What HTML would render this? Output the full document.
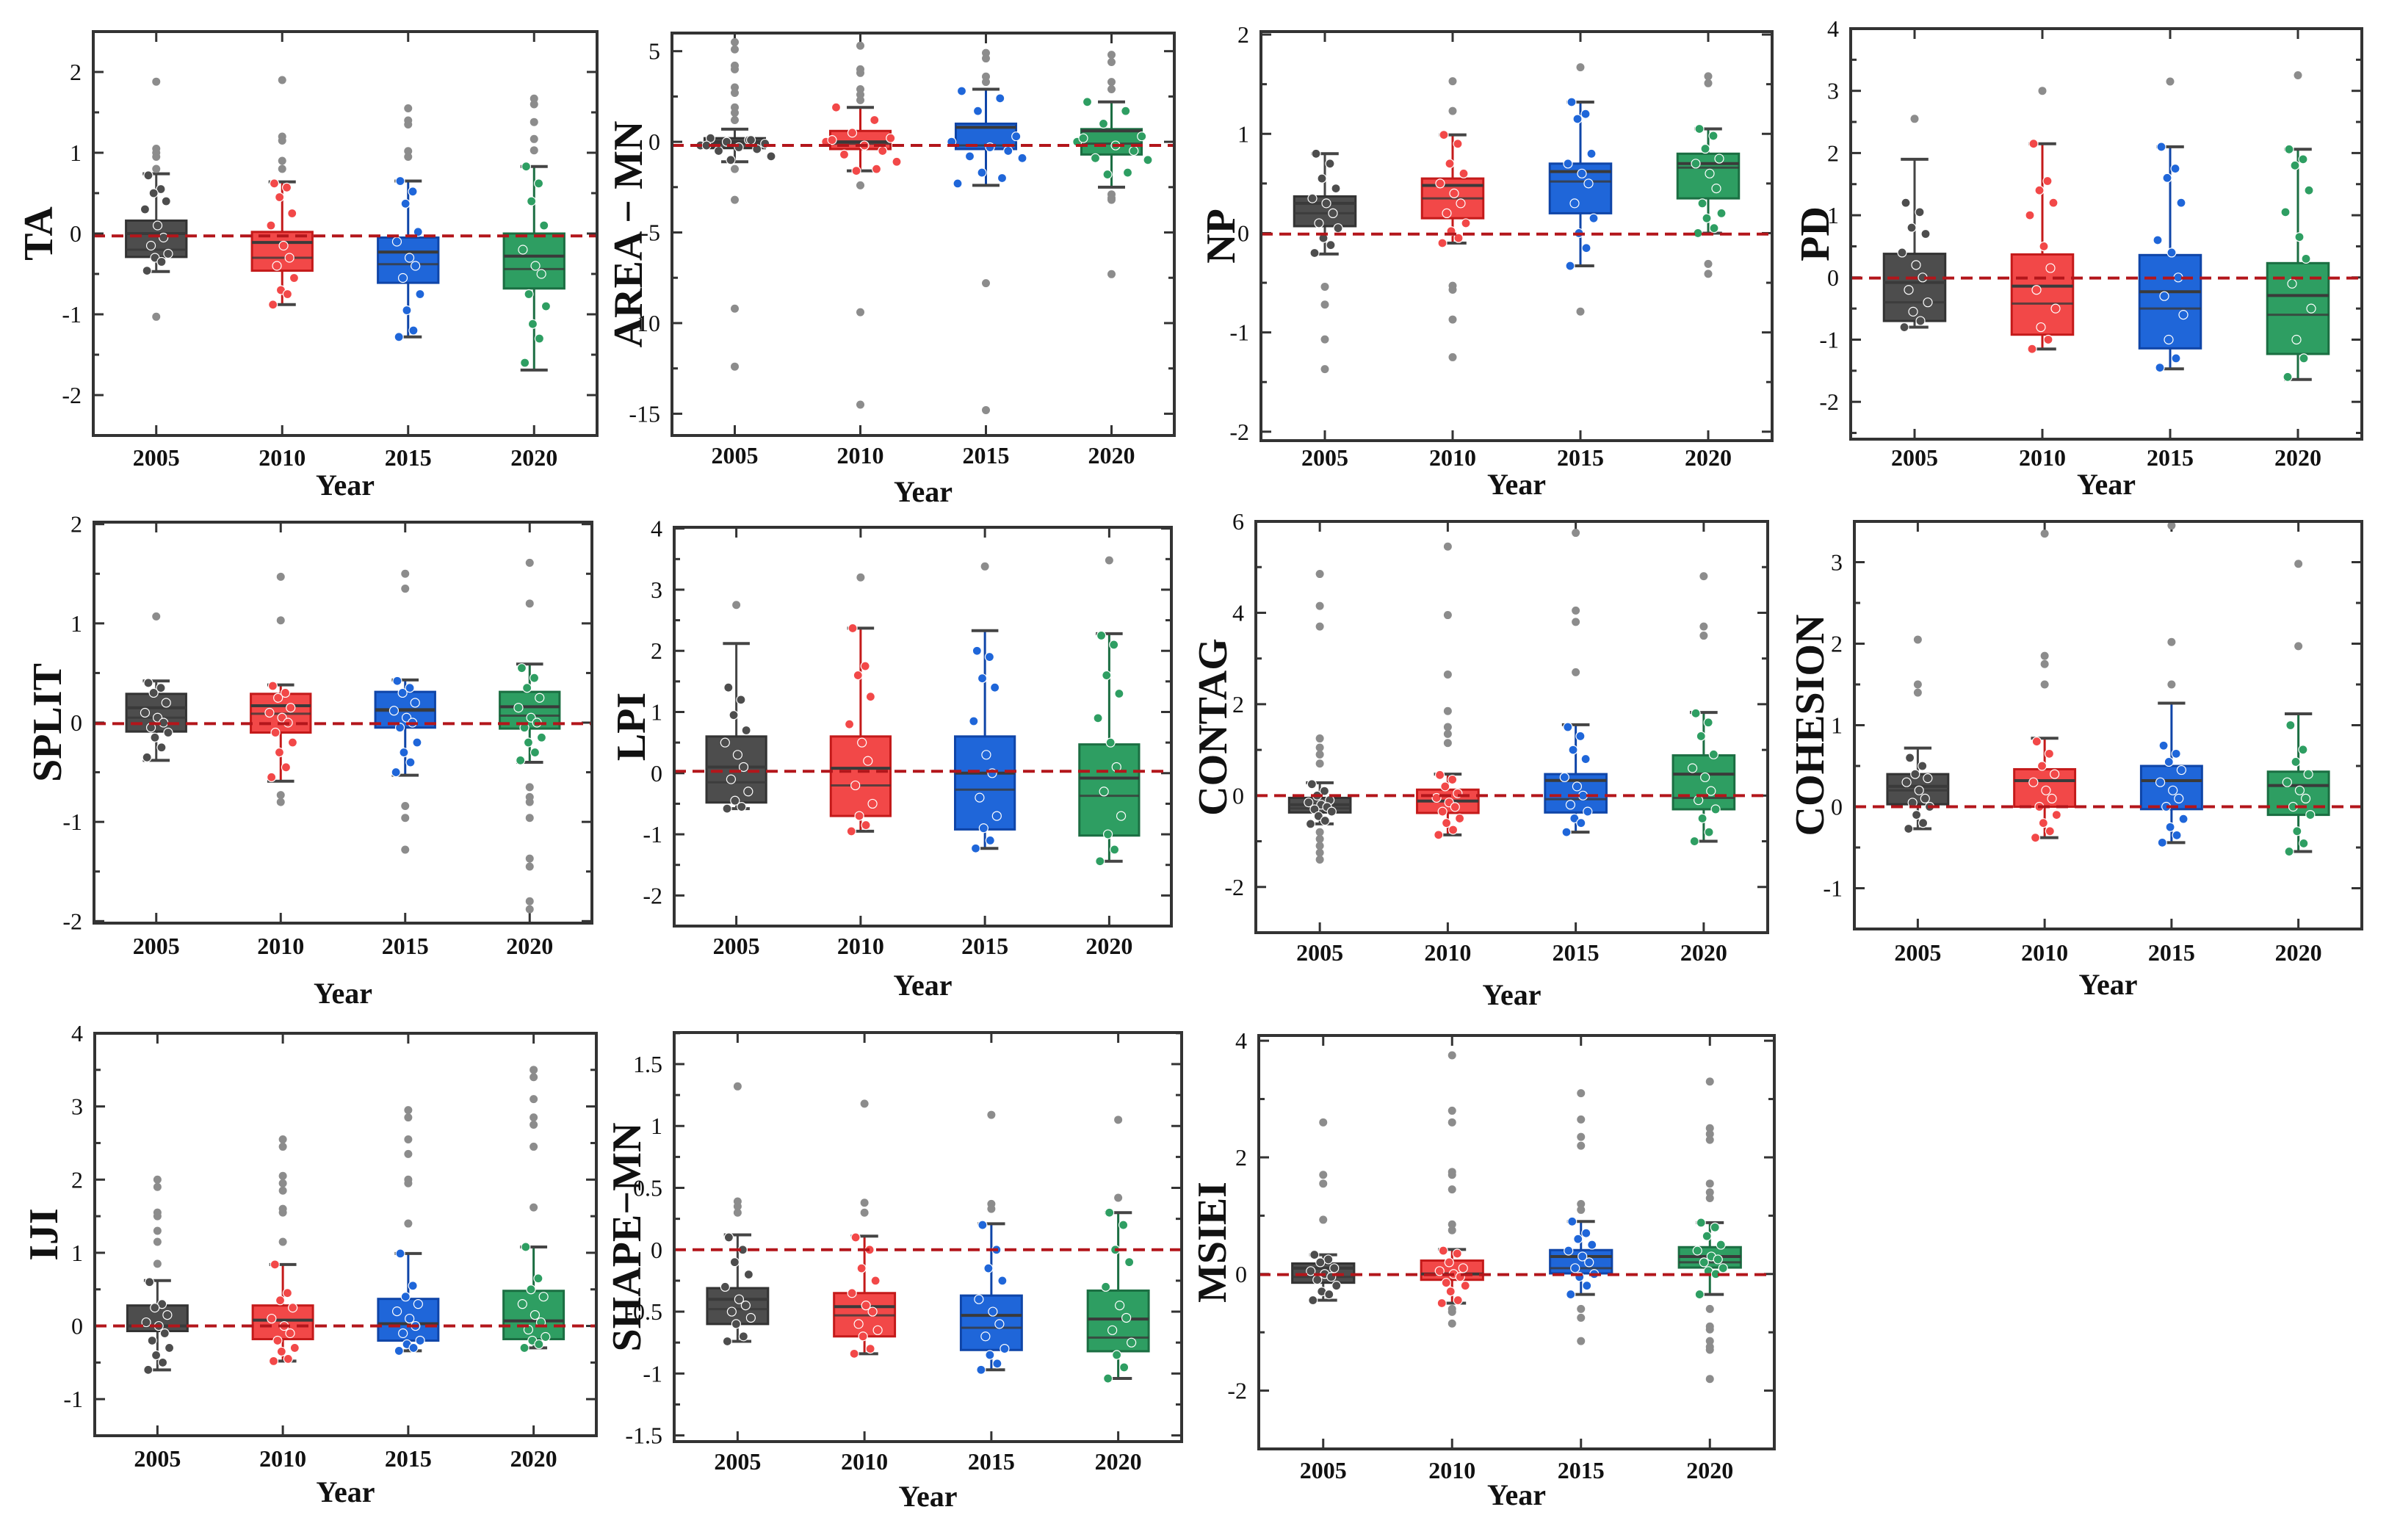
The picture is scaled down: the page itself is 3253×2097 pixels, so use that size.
<!DOCTYPE html>
<html><head><meta charset="utf-8"><title>Boxplots of landscape indices by year</title>
<style>
html,body{margin:0;padding:0;background:#fff;}
svg{display:block;font-family:"Liberation Serif",serif;}
</style></head>
<body>
<svg id="chart" xmlns="http://www.w3.org/2000/svg" width="3253" height="2097" viewBox="0 0 3253 2097">
<rect x="0" y="0" width="3253" height="2097" fill="#ffffff"/>
</svg>
<script>
const years=['2005','2010','2015','2020'];

const TA_q3=[0.16,0.02,-0.05,0.0], TA_q1=[-0.29,-0.46,-0.61,-0.68], TA_med=[0.0,-0.11,-0.23,-0.28], TA_mean=[-0.2,-0.3,-0.38,-0.44], TA_hi=[0.74,0.64,0.65,0.83], TA_lo=[-0.47,-0.88,-1.28,-1.69];
const TA_out=[[1.88,1.05,1.0,0.95,0.8,-1.03],[1.9,1.2,1.15,0.9,0.8],[1.55,1.4,1.35,1.02,0.95],[1.67,1.6,1.38,1.17,1.03]];
const TA_pts=[[0.72,0.55,0.5,0.4,0.3,0.1,-0.05,-0.15,-0.25,-0.3,-0.35,-0.46],[0.62,0.57,0.45,0.25,0.1,-0.15,-0.3,-0.4,-0.55,-0.7,-0.75,-0.88],[0.65,0.52,0.37,0.02,-0.1,-0.3,-0.4,-0.55,-0.75,-0.95,-1.2,-1.28],[0.83,0.62,0.4,0.1,-0.2,-0.4,-0.5,-0.75,-0.9,-1.12,-1.3,-1.6]];
const AREA_q3=[0.2,0.6,1.0,0.7], AREA_q1=[-0.35,-0.4,-0.4,-0.7], AREA_med=[0.0,0.0,0.8,0.6], AREA_mean=[-0.1,-0.1,-0.2,-0.1], AREA_hi=[0.7,1.9,2.9,2.2], AREA_lo=[-1.1,-1.6,-2.4,-2.5];
const AREA_out=[[5.5,5.1,4.2,4.0,3.0,2.7,1.9,1.6,1.2,-1.5,-3.2,-9.2,-12.4],[5.3,4.0,3.8,2.9,2.6,2.3,-2.4,-9.4,-14.5],[4.9,4.6,3.6,3.3,-7.8,-14.8],[4.8,4.4,3.3,2.9,-2.9,-3.1,-3.2,-7.3]];
const AREA_pts=[[0.2,0.1,0,-0.1,-0.2,-0.3,-0.4,-0.5,-0.8,-1.0,0.1,-0.2],[1.9,1.2,0.5,0.2,0,-0.2,-0.5,-0.7,-1.1,-1.6,-1.5,0.1],[2.8,2.4,1.7,0.3,0,-0.3,-0.5,-0.8,-0.9,-1.7,-2.0,-2.3],[2.2,1.7,1.0,0.3,0,-0.2,-0.5,-0.9,-1.0,-1.8,-1.7,0.2]];
const NP_q3=[0.37,0.55,0.7,0.8], NP_q1=[0.07,0.15,0.2,0.35], NP_med=[0.3,0.48,0.62,0.7], NP_mean=[0.2,0.35,0.52,0.66], NP_hi=[0.8,0.99,1.32,1.05], NP_lo=[-0.21,-0.1,-0.33,0.0];
const NP_out=[[-0.54,-0.72,-1.07,-1.37],[1.53,1.23,-0.53,-0.57,-0.87,-1.25],[1.67,-0.79],[1.58,1.51,-0.31,-0.41]];
const NP_pts=[[0.8,0.7,0.55,0.45,0.35,0.3,0.2,0.1,0.05,-0.05,-0.12,-0.2],[0.99,0.9,0.7,0.6,0.5,0.4,0.3,0.2,0.1,0.02,-0.05,-0.1],[1.32,1.2,1.15,0.8,0.7,0.6,0.5,0.3,0.15,0.0,-0.15,-0.33],[1.05,0.98,0.85,0.75,0.7,0.6,0.45,0.3,0.2,0.15,0.05,0.0]];
const PD_q3=[0.38,0.37,0.36,0.23], PD_q1=[-0.7,-0.92,-1.14,-1.23], PD_med=[-0.08,-0.14,-0.23,-0.29], PD_mean=[-0.4,-0.42,-0.5,-0.6], PD_hi=[1.9,2.15,2.1,2.06], PD_lo=[-0.8,-1.15,-1.47,-1.64];
const PD_out=[[2.55],[3.0],[3.15],[3.25]];
const PD_pts=[[1.2,1.05,0.8,0.7,0.4,0.2,0,-0.2,-0.4,-0.55,-0.7,-0.8],[2.15,1.55,1.4,1.2,1.0,0.5,0.15,-0.2,-0.5,-0.8,-1.0,-1.15],[2.1,1.75,1.6,1.2,0.6,0.4,0,-0.3,-0.6,-1.0,-1.3,-1.45],[2.06,1.9,1.8,1.4,1.05,0.65,0.3,-0.1,-0.5,-1.0,-1.3,-1.6]];
const SPLIT_q3=[0.29,0.29,0.31,0.31], SPLIT_q1=[-0.09,-0.1,-0.05,-0.06], SPLIT_med=[0.15,0.17,0.13,0.16], SPLIT_mean=[0.05,0.09,0.12,0.07], SPLIT_hi=[0.42,0.38,0.43,0.59], SPLIT_lo=[-0.38,-0.59,-0.53,-0.4];
const SPLIT_out=[[1.07],[1.47,1.03,-0.73,-0.8],[1.5,1.35,-0.84,-0.96,-1.28],[1.61,1.2,-0.65,-0.75,-0.8,-0.96,-1.37,-1.45,-1.8,-1.88]];
const SPLIT_pts=[[0.4,0.35,0.3,0.2,0.1,0.05,0,-0.05,-0.1,-0.15,-0.25,-0.35],[0.37,0.3,0.25,0.15,0.1,0.05,0,-0.1,-0.2,-0.3,-0.45,-0.55],[0.42,0.35,0.3,0.2,0.12,0.05,0,-0.05,-0.2,-0.3,-0.4,-0.5],[0.55,0.45,0.35,0.25,0.15,0.05,0,-0.05,-0.15,-0.2,-0.3,-0.38]];
const LPI_q3=[0.6,0.6,0.6,0.47], LPI_q1=[-0.48,-0.7,-0.92,-1.02], LPI_med=[0.1,0.08,0.0,-0.08], LPI_mean=[-0.15,-0.2,-0.27,-0.37], LPI_hi=[2.12,2.37,2.33,2.28], LPI_lo=[-0.58,-0.95,-1.23,-1.44];
const LPI_out=[[2.75],[3.2],[3.38],[3.48]];
const LPI_pts=[[1.4,1.2,0.95,0.7,0.5,0.3,0.1,-0.1,-0.3,-0.45,-0.55,-0.58],[2.37,1.75,1.6,1.25,0.8,0.5,0.2,-0.2,-0.5,-0.7,-0.85,-0.95],[2.0,1.9,1.55,1.4,0.85,0.3,0.0,-0.4,-0.7,-0.9,-1.1,-1.23],[2.25,2.1,1.6,1.3,0.9,0.5,0.1,-0.3,-0.7,-1.0,-1.25,-1.44]];
const CONTAG_q3=[-0.05,0.13,0.47,0.88], CONTAG_q1=[-0.37,-0.38,-0.37,-0.3], CONTAG_med=[-0.2,-0.12,0.33,0.47], CONTAG_mean=[-0.28,-0.12,-0.08,-0.05], CONTAG_hi=[0.28,0.47,1.55,1.82], CONTAG_lo=[-0.62,-0.86,-0.8,-1.0];
const CONTAG_out=[[4.85,4.15,3.7,1.25,1.05,0.9,0.7,-0.8,-0.95,-1.1,-1.25,-1.4],[5.45,3.95,2.65,1.85,1.5,1.35,1.15],[5.75,4.05,3.8,2.7],[4.8,3.7,3.5]];
const CONTAG_pts=[[0.25,0.1,0,-0.1,-0.15,-0.2,-0.25,-0.3,-0.35,-0.45,-0.55,-0.62],[0.45,0.35,0.2,0.05,-0.05,-0.15,-0.25,-0.35,-0.5,-0.6,-0.75,-0.86],[1.5,1.3,1.0,0.8,0.4,0.2,0,-0.2,-0.35,-0.5,-0.6,-0.8],[1.8,1.6,1.3,0.9,0.6,0.4,0.1,-0.1,-0.3,-0.5,-0.8,-1.0]];
const COH_q3=[0.4,0.46,0.5,0.43], COH_q1=[0.03,0.0,-0.03,-0.1], COH_med=[0.25,0.32,0.32,0.26], COH_mean=[0.2,0.32,0.32,0.26], COH_hi=[0.72,0.84,1.27,1.14], COH_lo=[-0.27,-0.38,-0.44,-0.55];
const COH_out=[[2.05,1.5,1.4],[3.35,1.85,1.75,1.5],[3.45,2.02,1.5],[2.98,1.97]];
const COH_pts=[[0.6,0.5,0.4,0.35,0.3,0.2,0.1,0.05,0,-0.1,-0.2,-0.27],[0.8,0.65,0.5,0.4,0.3,0.2,0.1,0,-0.1,-0.2,-0.3,-0.38],[0.75,0.65,0.55,0.45,0.3,0.2,0.1,0,-0.15,-0.25,-0.35,-0.44],[1.0,0.7,0.55,0.4,0.3,0.2,0.1,0,-0.1,-0.3,-0.45,-0.55]];
const IJI_q3=[0.28,0.28,0.37,0.48], IJI_q1=[-0.07,-0.18,-0.2,-0.18], IJI_med=[0.0,0.08,0.03,0.07], IJI_mean=[0.0,0.08,0.03,0.07], IJI_hi=[0.62,0.84,0.99,1.08], IJI_lo=[-0.6,-0.48,-0.34,-0.3];
const IJI_out=[[2.0,1.9,1.55,1.5,1.3,1.15,0.85],[2.55,2.45,2.05,1.95,1.85,1.6,1.55,1.15],[2.95,2.85,2.55,2.35,2.0,1.95,1.4],[3.5,3.4,3.1,2.85,2.75,2.45,1.62]];
const IJI_pts=[[0.6,0.3,0.25,0.15,0.05,0,-0.1,-0.2,-0.3,-0.4,-0.5,-0.6],[0.84,0.45,0.35,0.25,0.1,0,-0.1,-0.2,-0.3,-0.35,-0.45,-0.48],[0.99,0.55,0.4,0.3,0.2,0.1,0,-0.1,-0.2,-0.25,-0.3,-0.34],[1.08,0.65,0.5,0.4,0.3,0.15,0.05,-0.05,-0.15,-0.2,-0.25,-0.3]];
const SHAPE_q3=[-0.31,-0.35,-0.37,-0.33], SHAPE_q1=[-0.6,-0.7,-0.81,-0.82], SHAPE_med=[-0.4,-0.46,-0.53,-0.56], SHAPE_mean=[-0.48,-0.53,-0.63,-0.71], SHAPE_hi=[0.12,0.11,0.21,0.3], SHAPE_lo=[-0.74,-0.84,-0.97,-1.04];
const SHAPE_out=[[1.32,0.39,0.35,0.3],[1.18,0.38,0.3],[1.09,0.37,0.33],[1.05,0.42]];
const SHAPE_pts=[[0.1,0.0,-0.1,-0.2,-0.3,-0.4,-0.45,-0.5,-0.55,-0.6,-0.7,-0.74],[0.1,0.0,-0.15,-0.25,-0.35,-0.45,-0.5,-0.6,-0.65,-0.7,-0.8,-0.84],[0.2,0.0,-0.15,-0.25,-0.4,-0.5,-0.6,-0.7,-0.8,-0.85,-0.92,-0.97],[0.3,0.2,0.0,-0.1,-0.3,-0.45,-0.55,-0.65,-0.75,-0.85,-0.95,-1.04]];
const MSIEI_q3=[0.18,0.23,0.41,0.46], MSIEI_q1=[-0.15,-0.1,0.01,0.11], MSIEI_med=[0.1,0.0,0.3,0.3], MSIEI_mean=[-0.05,0.0,0.1,0.2], MSIEI_hi=[0.33,0.42,0.9,0.88], MSIEI_lo=[-0.45,-0.5,-0.35,-0.35];
const MSIEI_out=[[2.6,1.7,1.55,0.93],[3.75,2.8,2.6,1.75,1.7,1.45,0.85,0.75,-0.6,-0.65,-0.85],[3.1,2.65,2.35,2.2,1.2,1.1,-0.6,-0.75,-1.15],[3.3,2.5,2.4,2.3,1.55,1.4,1.3,-0.6,-0.9,-0.95,-1.15,-1.25,-1.3,-1.8]];
const MSIEI_pts=[[0.33,0.25,0.2,0.1,0.05,0,-0.05,-0.1,-0.2,-0.3,-0.35,-0.45],[0.4,0.35,0.2,0.1,0.05,0,-0.05,-0.15,-0.2,-0.3,-0.45,-0.5],[0.9,0.7,0.6,0.5,0.4,0.3,0.2,0.1,0.0,-0.05,-0.2,-0.35],[0.88,0.8,0.65,0.5,0.4,0.3,0.25,0.2,0.1,0.05,0.0,-0.35]];

const refLines=[-0.03,-0.2,-0.01,-0.01,-0.01,0.03,0,0,0,0,-0.01];

const NS='http://www.w3.org/2000/svg';
const svg=document.getElementById('chart');
function mk(tag,attrs,parent){const e=document.createElementNS(NS,tag);for(const k in attrs)e.setAttribute(k,attrs[k]);(parent||svg).appendChild(e);return e;}

const fills=['#4d4d4d','#f24848','#1f66d9','#2e9e62'];
const edges=['#333333','#c41a1a','#0f45a8','#1b6e42'];

const panels=[
 {key:'ta',label:'TA',d:[TA_q3,TA_q1,TA_med,TA_mean,TA_hi,TA_lo,TA_out,TA_pts],x0:127,x1:813,y0:43,y1:593,ymin:-2.5,ymax:2.5,major:[-2,-1,0,1,2],minor:0.5,lx:51,tly:634,yy:674,jw:18},
 {key:'area-mn',label:'AREA − MN',d:[AREA_q3,AREA_q1,AREA_med,AREA_mean,AREA_hi,AREA_lo,AREA_out,AREA_pts],x0:915,x1:1599,y0:45,y1:593,ymin:-16.2,ymax:6.0,major:[-15,-10,-5,0,5],minor:2.5,lx:854,tly:631,yy:683,jw:55},
 {key:'np',label:'NP',d:[NP_q3,NP_q1,NP_med,NP_mean,NP_hi,NP_lo,NP_out,NP_pts],x0:1717,x1:2413,y0:43,y1:600,ymin:-2.09,ymax:2.03,major:[-2,-1,0,1,2],minor:0.5,lx:1661,tly:634,yy:673,jw:20},
 {key:'pd',label:'PD',d:[PD_q3,PD_q1,PD_med,PD_mean,PD_hi,PD_lo,PD_out,PD_pts],x0:2520,x1:3216,y0:39,y1:598,ymin:-2.6,ymax:4.0,major:[-2,-1,0,1,2,3,4],minor:0.5,lx:2470,tly:634,yy:673,jw:20},
 {key:'split',label:'SPLIT',d:[SPLIT_q3,SPLIT_q1,SPLIT_med,SPLIT_mean,SPLIT_hi,SPLIT_lo,SPLIT_out,SPLIT_pts],x0:128,x1:806,y0:711,y1:1257,ymin:-2.02,ymax:2.02,major:[-2,-1,0,1,2],minor:0.5,lx:63,tly:1299,yy:1366,jw:18},
 {key:'lpi',label:'LPI',d:[LPI_q3,LPI_q1,LPI_med,LPI_mean,LPI_hi,LPI_lo,LPI_out,LPI_pts],x0:918,x1:1595,y0:718,y1:1261,ymin:-2.5,ymax:4.02,major:[-2,-1,0,1,2,3,4],minor:0.5,lx:858,tly:1299,yy:1355,jw:18},
 {key:'contag',label:'CONTAG',d:[CONTAG_q3,CONTAG_q1,CONTAG_med,CONTAG_mean,CONTAG_hi,CONTAG_lo,CONTAG_out,CONTAG_pts],x0:1710,x1:2407,y0:710,y1:1270,ymin:-3,ymax:6,major:[-2,0,2,4,6],minor:1,lx:1650,tly:1308,yy:1368,jw:18},
 {key:'cohesion',label:'COHESION',d:[COH_q3,COH_q1,COH_med,COH_mean,COH_hi,COH_lo,COH_out,COH_pts],x0:2525,x1:3216,y0:710,y1:1265,ymin:-1.5,ymax:3.5,major:[-1,0,1,2,3],minor:0.5,lx:2463,tly:1308,yy:1354,jw:18},
 {key:'iji',label:'IJI',d:[IJI_q3,IJI_q1,IJI_med,IJI_mean,IJI_hi,IJI_lo,IJI_out,IJI_pts],x0:129,x1:812,y0:1407,y1:1955,ymin:-1.5,ymax:4.0,major:[-1,0,1,2,3,4],minor:0.5,lx:58,tly:1997,yy:2045,jw:18},
 {key:'shape-mn',label:'SHAPE−MN',d:[SHAPE_q3,SHAPE_q1,SHAPE_med,SHAPE_mean,SHAPE_hi,SHAPE_lo,SHAPE_out,SHAPE_pts],x0:918,x1:1609,y0:1406,y1:1963,ymin:-1.55,ymax:1.755,major:[-1.5,-1,-0.5,0,0.5,1,1.5],minor:0.25,lx:852,tly:2001,yy:2051,jw:20},
 {key:'msiei',label:'MSIEI',d:[MSIEI_q3,MSIEI_q1,MSIEI_med,MSIEI_mean,MSIEI_hi,MSIEI_lo,MSIEI_out,MSIEI_pts],x0:1714,x1:2416,y0:1410,y1:1973,ymin:-3,ymax:4.09,major:[-2,0,2,4],minor:1,lx:1649,tly:2013,yy:2049,jw:20}
];
const jit=[-0.6,0.35,-0.2,0.75,-0.85,0.1,0.55,-0.4,0.9,-0.1,0.4,-0.7,0.2,-0.3];

panels.forEach((p,pi)=>{
  const g=mk('g',{});
  
  
  const W=p.x1-p.x0;
  const xs=i=>p.x0+W*(i+0.5)/4;
  const ys=v=>p.y1-(v-p.ymin)/(p.ymax-p.ymin)*(p.y1-p.y0);
  const [q3,q1,med,mean,hi,lo,out,pts]=p.d;
  const bw=W*0.06;
  const cap=W*0.027;
  const mstart=Math.ceil(p.ymin/p.minor)*p.minor;
  for(let v=mstart;v<=p.ymax+1e-9;v+=p.minor){
    const y=ys(v);
    const isMaj=p.major.some(m=>Math.abs(m-v)<1e-6);
    const L=isMaj?14:8;
    mk('line',{x1:p.x0,x2:p.x0+L,y1:y,y2:y,stroke:'#333','stroke-width':3},g);
    mk('line',{x1:p.x1,x2:p.x1-L,y1:y,y2:y,stroke:'#333','stroke-width':3},g);
  }
  p.major.forEach(v=>{
    const t=mk('text',{x:p.x0-16,y:ys(v)+11,'text-anchor':'end','font-size':32,fill:'#111'},g);
    t.textContent=String(v);
    
    
  });
  years.forEach((yr,i)=>{
    const x=xs(i);
    mk('line',{x1:x,x2:x,y1:p.y1,y2:p.y1-14,stroke:'#333','stroke-width':3},g);
    mk('line',{x1:x,x2:x,y1:p.y0,y2:p.y0+14,stroke:'#333','stroke-width':3},g);
    const t=mk('text',{x:x,y:p.tly,'text-anchor':'middle','font-size':32,'font-weight':'bold',fill:'#111'},g);
    t.textContent=yr;
    
    
  });
  years.forEach((yr,i)=>{
    const x=xs(i);
    const bg=mk('g',{},g);
    
    
    const wc=i===0?'#444':edges[i];
    mk('line',{x1:x,x2:x,y1:ys(hi[i]),y2:ys(lo[i]),stroke:wc,'stroke-width':3},bg);
    mk('line',{x1:x-cap,x2:x+cap,y1:ys(hi[i]),y2:ys(hi[i]),stroke:'#444','stroke-width':4},bg);
    mk('line',{x1:x-cap,x2:x+cap,y1:ys(lo[i]),y2:ys(lo[i]),stroke:'#444','stroke-width':4},bg);
    mk('rect',{x:x-bw,y:ys(q3[i]),width:2*bw,height:Math.max(1,ys(q1[i])-ys(q3[i])),fill:fills[i],stroke:edges[i],'stroke-width':3},bg);
    mk('line',{x1:x-bw,x2:x+bw,y1:ys(med[i]),y2:ys(med[i]),stroke:'#3a3a3a','stroke-width':4},bg);
    mk('line',{x1:x-bw,x2:x+bw,y1:ys(mean[i]),y2:ys(mean[i]),stroke:'#3a3a3a','stroke-width':3,opacity:0.8},bg);
    pts[i].forEach((v,k)=>{
      const c=mk('circle',{cx:x+jit[k%jit.length]*p.jw,cy:ys(v),r:6,fill:fills[i],stroke:'#ffffff','stroke-width':1.2},bg);
      
      
    });
    out[i].forEach(v=>{
      const c=mk('circle',{cx:x,cy:ys(v),r:5.5,fill:'#8c8c8c'},bg);
      
      
    });
  });
  const rl=mk('line',{x1:p.x0,x2:p.x1,y1:ys(refLines[pi]),y2:ys(refLines[pi]),stroke:'#b3161b','stroke-width':4,'stroke-dasharray':'16 9'},g);
  
  
  const fr=mk('rect',{x:p.x0,y:p.y0,width:W,height:p.y1-p.y0,fill:'none',stroke:'#333','stroke-width':4},g);
  
  
  const yt=mk('text',{x:p.lx,y:(p.y0+p.y1)/2,'text-anchor':'middle','font-size':56,'font-weight':'bold',fill:'#111',transform:'rotate(-90 '+p.lx+' '+((p.y0+p.y1)/2)+')',dy:20},g);
  yt.textContent=p.label;
  
  
  const xt=mk('text',{x:(p.x0+p.x1)/2,y:p.yy,'text-anchor':'middle','font-size':40,'font-weight':'bold',fill:'#111'},g);
  xt.textContent='Year';
  
  
});
</script>
</body></html>
